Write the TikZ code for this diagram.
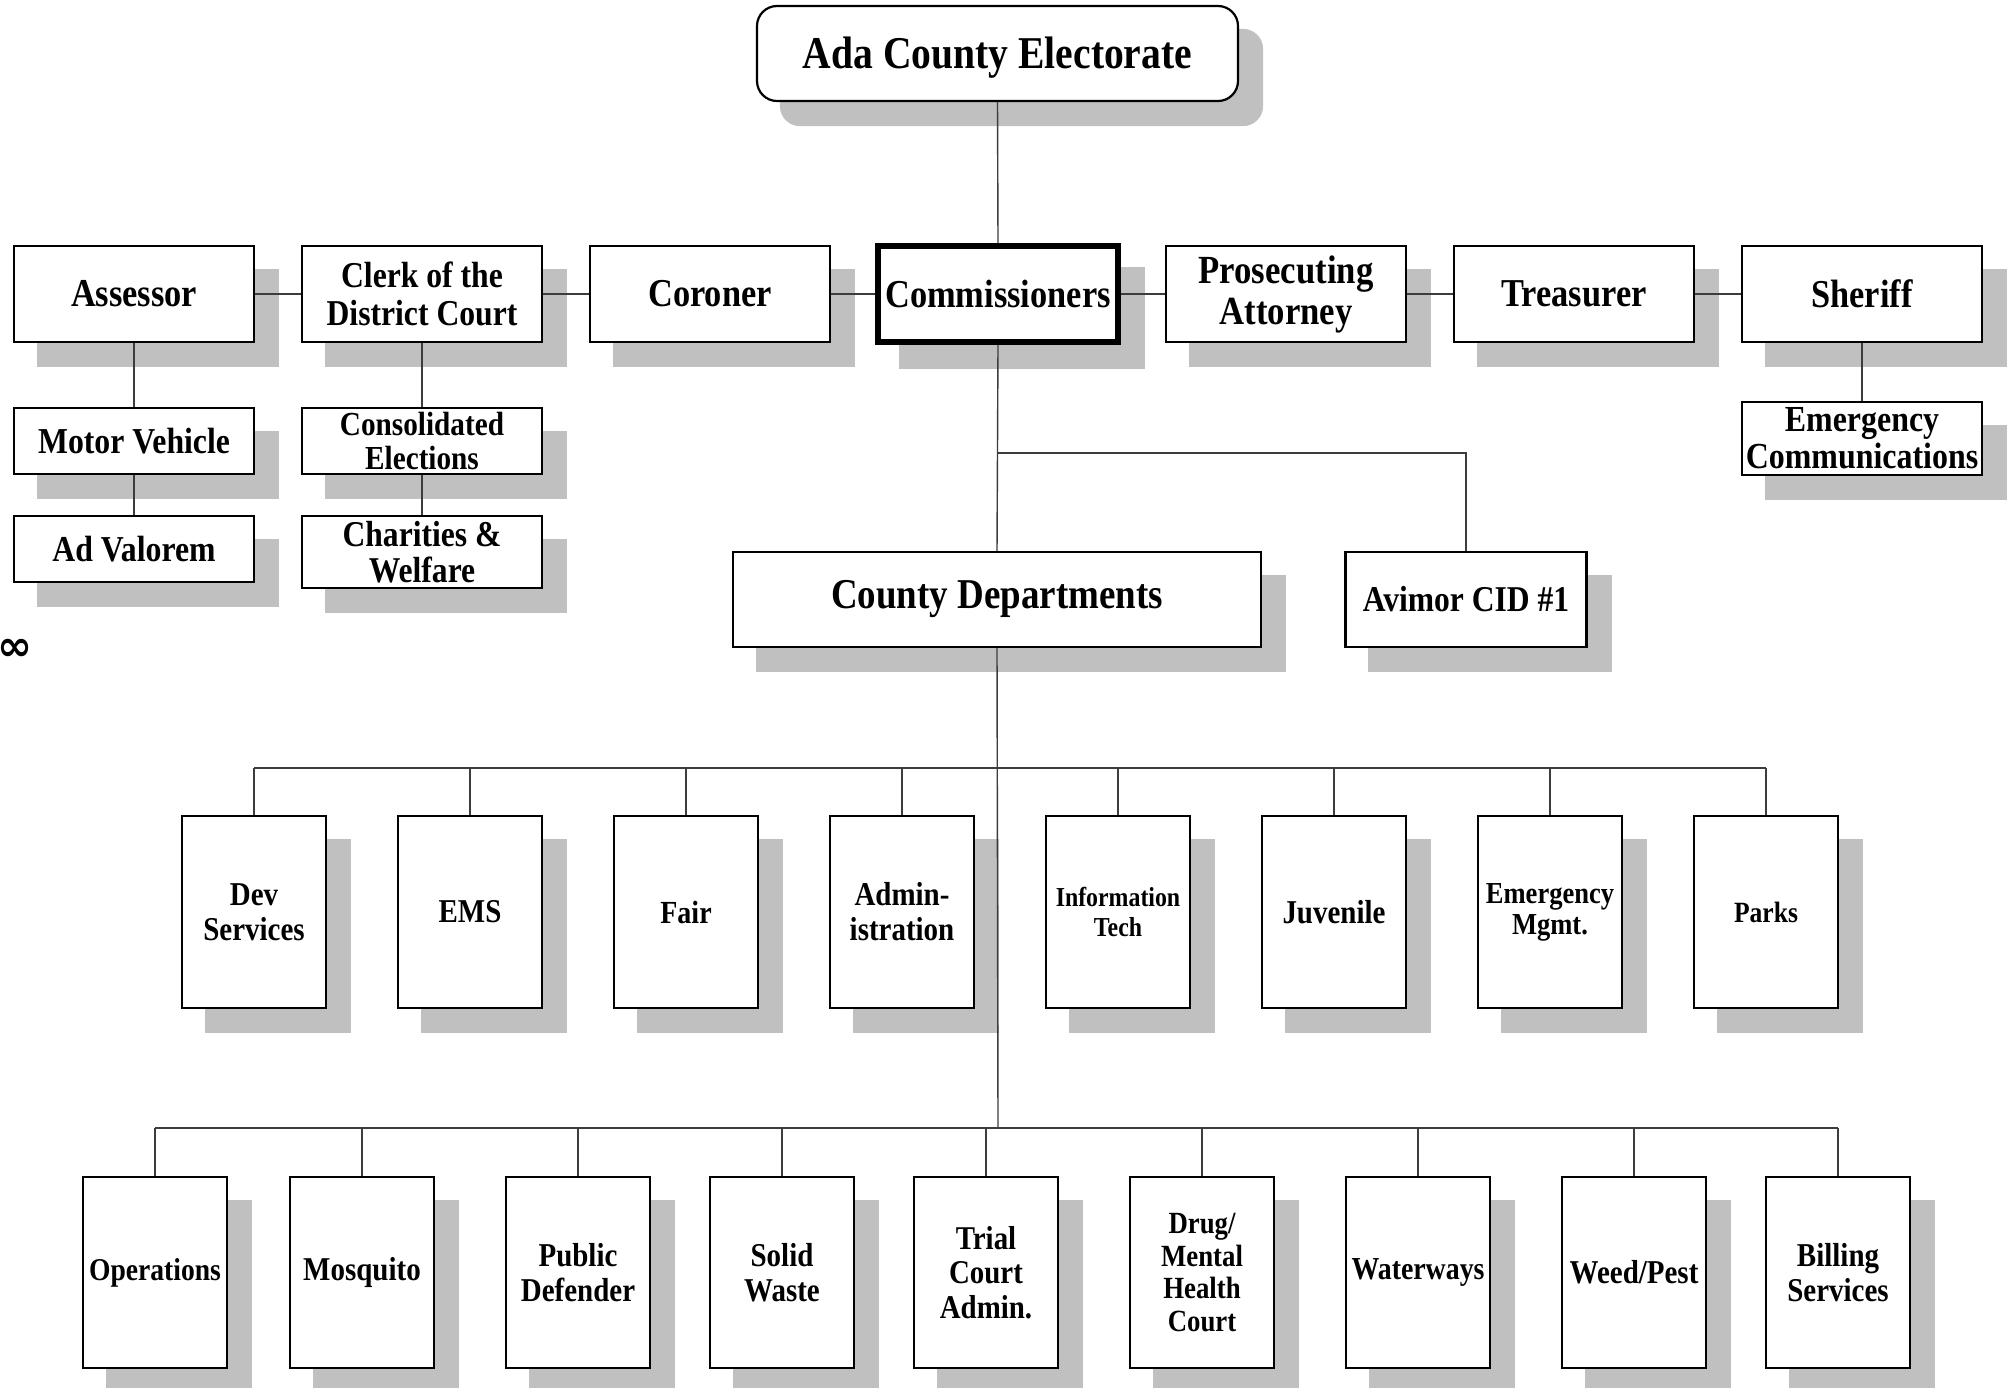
\documentclass[tikz,border=0pt]{standalone}
\usepackage{fontspec}
\setmainfont{Liberation Serif}[FakeStretch=0.87]
\newfontfamily\symfont{DejaVu Sans}
\pgfdeclarelayer{bg}
\pgfsetlayers{bg,main}
\definecolor{shadowgray}{RGB}{192,192,192}
\definecolor{conncol}{RGB}{60,60,60}
\newcommand\fsz[2]{\fontsize{#1}{#2}\selectfont\bfseries}
\tikzset{
  box/.style={rectangle, draw=black, line width=2.2pt, fill=white, inner sep=0pt, align=center},
  topbox/.style={box, minimum width=240pt, minimum height=96pt, font=\fsz{39.5}{41}},
  subbox/.style={box, minimum width=240pt, font=\fsz{36.5}{37}},
  deptbox/.style={box, minimum width=144pt, minimum height=192pt, font=\fsz{33.3}{35}},
  conn/.style={draw=conncol, line width=1.4pt},
  shadowfill/.style={fill=shadowgray},
}
\begin{document}
\begin{tikzpicture}[x=1pt,y=-1pt]
\useasboundingbox (0,0) rectangle (2010,1387);
\begin{pgfonlayer}{bg}
\fill[white] (0,0) rectangle (2010,1387);
\end{pgfonlayer}

% top
\node[box, rounded corners=20pt, minimum width=481pt, minimum height=95pt, font=\fsz{45.5}{47}] (ada) at (997.5,53.5) {\raisebox{-4pt}[\height][\depth]{Ada County Electorate}};

% top row
\node[topbox] (assessor) at (134,294) {Assessor};
\node[topbox, font=\fsz{36.4}{38.5}] (clerk) at (422,294) {Clerk of the\\District Court};
\node[topbox] (coroner) at (710,294) {Coroner};
\node[topbox, line width=5.5pt] (comm) at (998,294) {Commissioners};
\node[topbox, font=\fsz{39.9}{41}] (pros) at (1286,294) {Prosecuting\\Attorney};
\node[topbox] (treas) at (1574,294) {Treasurer};
\node[topbox] (sheriff) at (1862,294) {Sheriff};

% sub boxes
\node[subbox, minimum height=66pt] (motor) at (134,441) {Motor Vehicle};
\node[subbox, minimum height=66pt] (adval) at (134,549) {Ad Valorem};
\node[subbox, minimum height=66pt, font=\fsz{33.6}{34.6}] (consol) at (422,441) {Consolidated\\Elections};
\node[subbox, minimum height=72pt, font=\fsz{36.3}{36}] (charit) at (422,552) {Charities \&\\Welfare};
\node[subbox, minimum height=73pt, font=\fsz{36.7}{37}] (emcomm) at (1862,438.5) {Emergency\\Communications};

% middle
\node[box, minimum width=528pt, minimum height=95pt, font=\fsz{42.5}{44}] (cd) at (997,599.5) {County Departments};
\node[box, minimum width=241pt, minimum height=95pt, font=\fsz{36.3}{38}] (avimor) at (1466,599.5) {Avimor CID \#1};

\node[inner sep=0pt, font=\symfont\bfseries\fontsize{42}{42}\selectfont] (inf) at (15,650) {∞};

% dept row 1
\node[deptbox] (dev) at (254,912) {Dev\\Services};
\node[deptbox] (ems) at (470,912) {EMS};
\node[deptbox, font=\fsz{32.2}{34}] (fair) at (686,912) {Fair};
\node[deptbox] (admin) at (902,912) {Admin-\\istration};
\node[deptbox, font=\fsz{27.4}{29.5}] (it) at (1118,912) {Information\\Tech};
\node[deptbox] (juv) at (1334,912) {Juvenile};
\node[deptbox, font=\fsz{30.5}{30.8}] (emgmt) at (1550,912) {Emergency\\Mgmt.};
\node[deptbox, font=\fsz{29.4}{31}] (parks) at (1766,912) {Parks};

% dept row 2
\node[deptbox, minimum height=191pt, font=\fsz{31.7}{34}] (oper) at (155,1272.5) {Operations};
\node[deptbox, minimum height=191pt] (mosq) at (362,1272.5) {Mosquito};
\node[deptbox, minimum height=191pt] (pubdef) at (578,1272.5) {Public\\Defender};
\node[deptbox, minimum height=191pt] (solid) at (782,1272.5) {Solid\\Waste};
\node[deptbox, minimum height=191pt, font=\fsz{33.2}{34.6}] (trial) at (986,1272.5) {Trial\\Court\\Admin.};
\node[deptbox, minimum height=191pt, font=\fsz{30.8}{32.4}] (drug) at (1202,1272.5) {Drug/\\Mental\\Health\\Court};
\node[deptbox, minimum height=191pt, font=\fsz{32}{34}] (water) at (1418,1272.5) {Waterways};
\node[deptbox, minimum height=191pt] (weed) at (1634,1272.5) {Weed/Pest};
\node[deptbox, minimum height=191pt] (billing) at (1838,1272.5) {Billing\\Services};

% shadows
\begin{pgfonlayer}{bg}
\fill[shadowfill, rounded corners=20pt] ([shift={(24,24)}]ada.north west) rectangle ([shift={(24,24)}]ada.south east);
\foreach \n in {assessor,clerk,coroner,comm,pros,treas,sheriff,motor,adval,consol,charit,emcomm,cd,avimor,dev,ems,fair,admin,it,juv,emgmt,parks,oper,mosq,pubdef,solid,trial,drug,water,weed,billing}
  \fill[shadowfill] ([shift={(24,24)}]\n.north west) rectangle ([shift={(24,24)}]\n.south east);
\end{pgfonlayer}

% connectors
\draw[conn] (ada.south) -- (comm.north);
\draw[conn] (assessor.east) -- (clerk.west);
\draw[conn] (clerk.east) -- (coroner.west);
\draw[conn] (coroner.east) -- (comm.west);
\draw[conn] (comm.east) -- (pros.west);
\draw[conn] (pros.east) -- (treas.west);
\draw[conn] (treas.east) -- (sheriff.west);
\draw[conn] (assessor.south) -- (motor.north);
\draw[conn] (motor.south) -- (adval.north);
\draw[conn] (clerk.south) -- (consol.north);
\draw[conn] (consol.south) -- (charit.north);
\draw[conn] (sheriff.south) -- (emcomm.north);

\coordinate (br) at (998,453);
\draw[conn] (comm.south) -- (cd.north);
\draw[conn] (br) -| (avimor.north);

\coordinate (bus1) at (998,768);
\coordinate (bus2) at (998,1128);
\draw[conn] (cd.south) -- (bus2);
\draw[conn] (dev.north |- bus1) -- (parks.north |- bus1);
\foreach \n in {dev,ems,fair,admin,it,juv,emgmt,parks}
  \draw[conn] (\n.north |- bus1) -- (\n.north);
\draw[conn] (oper.north |- bus2) -- (billing.north |- bus2);
\foreach \n in {oper,mosq,pubdef,solid,trial,drug,water,weed,billing}
  \draw[conn] (\n.north |- bus2) -- (\n.north);
\end{tikzpicture}
\end{document}
